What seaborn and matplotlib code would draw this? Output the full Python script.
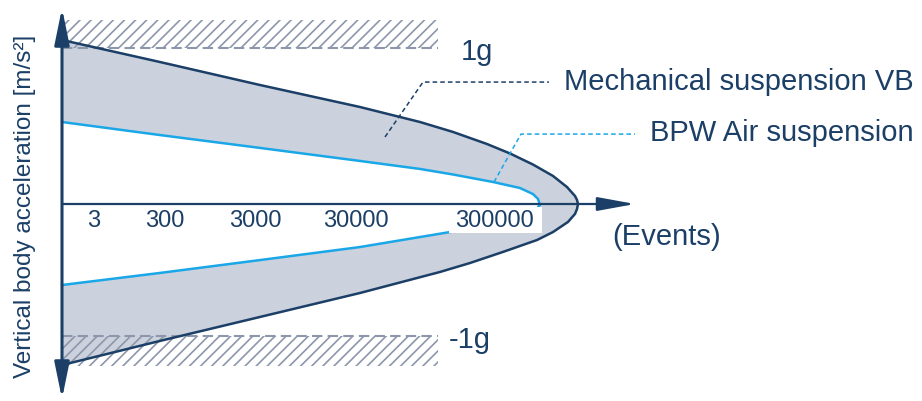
import matplotlib.pyplot as plt
import matplotlib as mpl
import seaborn as sns
import numpy as np
import pandas as pd
from matplotlib.patches import Rectangle

sns.set_theme(style='white')
mpl.rcParams['font.family'] = ['Liberation Sans', 'DejaVu Sans']
mpl.rcParams['hatch.linewidth'] = 1.2
mpl.rcParams['hatch.color'] = '#8d97ab'

NAVY = '#1b3f66'
BLUE = '#1aa7e8'
GREY_FILL = '#cbd1dd'
HATCH = '#8d97ab'

# event axis position (schematic units) and vertical acceleration in g
mech_upper_x = [0, 98, 198, 298, 358, 391, 425, 448, 471, 491, 505, 513, 515, 516]
mech_upper_g = [1.006, 0.871, 0.730, 0.595, 0.503, 0.442, 0.368, 0.310, 0.242, 0.172, 0.104, 0.049, 0.025, 0.0]
mech_lower_x = [0, 98, 198, 298, 378, 408, 441, 475, 491, 506, 513, 515, 516]
mech_lower_g = [-0.988, -0.840, -0.693, -0.546, -0.417, -0.362, -0.294, -0.221, -0.172, -0.110, -0.061, -0.031, 0.0]

air_upper_x = [0, 98, 198, 298, 358, 391, 431, 458, 471, 476, 478, 476]
air_upper_g = [0.503, 0.423, 0.344, 0.264, 0.215, 0.181, 0.135, 0.098, 0.061, 0.031, -0.006, -0.018]
air_lower_x = [0, 98, 198, 298, 388, 431, 458, 471, 476]
air_lower_g = [-0.497, -0.423, -0.344, -0.264, -0.172, -0.140, -0.105, -0.075, -0.045]

# 1g limit bands
band_x = [0, 376]
band_upper = (0.957, 1.129)
band_lower = (-0.994, -0.812)

event_labels = ['3', '300', '3000', '30000', '300000']
event_label_pos = [32, 102.5, 193.5, 294, 432]


def closed(ux, uy, lx, ly):
    return pd.DataFrame({'x': list(ux) + list(lx)[::-1],
                         'g': list(uy) + list(ly)[::-1]})


mech = closed(mech_upper_x, mech_upper_g, mech_lower_x, mech_lower_g)
air = closed(air_upper_x, air_upper_g, air_lower_x, air_lower_g)

fig = plt.figure(figsize=(9.22, 4.01), dpi=100)
ax = fig.add_axes([0, 0, 1, 1])

# shaded envelope between the two suspensions
ax.fill(mech['x'], mech['g'], color=GREY_FILL, lw=0, zorder=1)
ax.fill(air['x'], air['g'], color='white', lw=0, zorder=1.5)

# hatched 1g limits
for lo, hi in (band_upper, band_lower):
    ax.fill_between(band_x, lo, hi, facecolor='none', edgecolor=HATCH,
                    hatch='///', lw=0, zorder=2)
ax.plot(band_x, [band_upper[0]] * 2, color=HATCH, lw=1.5, dashes=(5, 2.5), zorder=2)
ax.plot(band_x, [band_lower[1]] * 2, color=HATCH, lw=1.5, dashes=(5, 2.5), zorder=2)

sns.lineplot(data=mech, x='x', y='g', sort=False, estimator=None,
             color=NAVY, lw=1.8, solid_joinstyle='round', ax=ax, zorder=3)
sns.lineplot(data=air, x='x', y='g', sort=False, estimator=None,
             color=BLUE, lw=1.8, solid_joinstyle='round', ax=ax, zorder=3)

ax.set_xlim(-62, 860)
ax.set_ylim(-1.2086, 1.2515)
ax.axis('off')

# axes arrows
ax.annotate('', xy=(0, 1.202), xytext=(0, -1.196),
            arrowprops=dict(arrowstyle='<|-|>,head_length=2.2,head_width=0.45',
                            mutation_scale=10, lw=2.2, color=NAVY,
                            shrinkA=0, shrinkB=0), zorder=4)
ax.annotate('', xy=(573, 0), xytext=(0, 0),
            arrowprops=dict(arrowstyle='-|>,head_length=2.3,head_width=0.42',
                            mutation_scale=10, lw=1.6, color=NAVY,
                            shrinkA=0, shrinkB=0), zorder=4)

# white patch behind the last event label
ax.add_patch(Rectangle((387, -0.178), 93, 0.16, facecolor='white',
                       edgecolor='none', zorder=4.5))
for lab, pos in zip(event_labels, event_label_pos):
    ax.text(pos, -0.104, lab, ha='center', va='center', fontsize=17,
            color=NAVY, zorder=5)

# leader lines
ax.plot([323, 361, 487], [0.411, 0.748, 0.748], color=NAVY, lw=1.1,
        dashes=(3, 2), zorder=3.5)
ax.plot([432, 459, 573], [0.135, 0.429, 0.429], color=BLUE, lw=1.1,
        dashes=(3, 2), zorder=3.5)

big = dict(fontsize=21, color=NAVY, va='center', ha='left')
ax.text(399, 0.933, '1g', **big)
ax.text(387, -0.834, '-1g', **big)
ax.text(502, 0.748, 'Mechanical suspension VB', **big)
ax.text(588, 0.436, 'BPW Air suspension', **big)
ax.text(550, -0.202, '(Events)', **big)

ax.text(25 / 922, 0.486, 'Vertical body acceleration [m/s²]', transform=ax.transAxes,
        rotation=90, ha='center', va='center', fontsize=17.5, color=NAVY)

fig.savefig('out.png', dpi=100)
